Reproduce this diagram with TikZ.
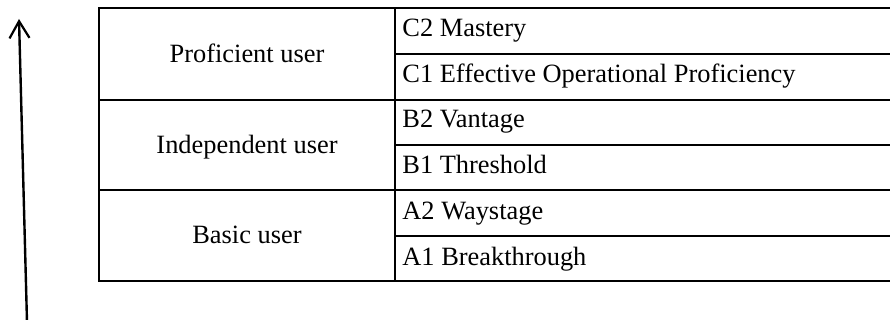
\documentclass[tikz,border=0pt]{standalone}
\usepackage{fontspec}
\setmainfont{Liberation Serif}
\usetikzlibrary{arrows.meta}
\begin{document}
\begin{tikzpicture}[x=0.5pt,y=-0.5pt,
  rule/.style={line width=0.65pt,black},
  grouplabel/.style={font=\fontsize{13.2}{15}\selectfont,inner sep=0pt,anchor=base},
  levellabel/.style={font=\fontsize{13.2}{15}\selectfont,inner sep=0pt,anchor=base west},
  scalearrow/.style={line width=1.2pt,-{Straight Barb[length=8.5pt,width=10pt,line width=1.1pt]}}]
\useasboundingbox (0,0) rectangle (890,320);

% table frame and rules (the right side runs off the page)
\draw[rule] (890,8) -- (99,8) -- (99,281) -- (890,281);
\draw[rule] (395,8) -- (395,281);
\draw[rule] (99,100) -- (890,100);
\draw[rule] (99,190) -- (890,190);
\foreach \y in {54,145,236}
  \draw[rule] (395,\y) -- (890,\y);

% user groups
\node[grouplabel] (prof)  at (247,63)  {Proficient user};
\node[grouplabel] (indep) at (247,154) {Independent user};
\node[grouplabel] (basic) at (247,244) {Basic user};

% CEFR levels
\node[levellabel] (c2) at (402,37)  {C2 Mastery};
\node[levellabel] (c1) at (402,83)  {C1 Effective Operational Proficiency};
\node[levellabel] (b2) at (402,128) {B2 Vantage};
\node[levellabel] (b1) at (402,174) {B1 Threshold};
\node[levellabel] (a2) at (402,220) {A2 Waystage};
\node[levellabel] (a1) at (402,266) {A1 Breakthrough};

% progression arrow
\coordinate (low)  at (27,322);
\coordinate (high) at (19,19);
\draw[scalearrow] (low) -- (high);
\end{tikzpicture}
\end{document}
